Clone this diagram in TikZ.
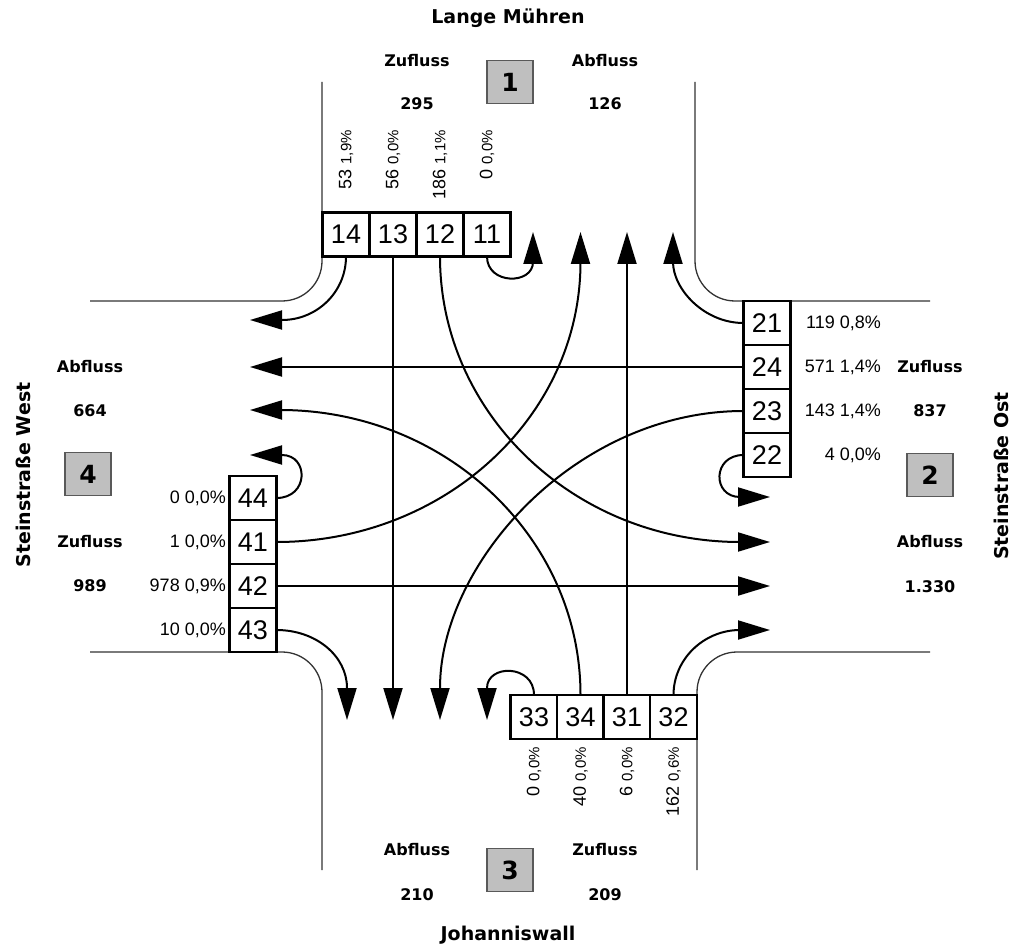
\documentclass[tikz,border=0pt]{standalone}
\usepackage{fontspec}
\setmainfont{DejaVu Sans}
\newfontfamily\numfont{Liberation Sans}
\usetikzlibrary{arrows.meta}
\begin{document}
\begin{tikzpicture}[x=1pt,y=-1pt,
  street/.style={line width=1.3pt, draw=black!80, rounded corners=40pt},
  flow/.style={line width=2pt, -{Triangle[length=32pt,width=19pt]}},
  lane/.style={draw, line width=2.4pt, fill=white, inner sep=0pt, outer sep=0pt,
    minimum width=47pt, minimum height=44pt, font=\numfont\fontsize{27}{27}\selectfont},
  armno/.style={draw=black!65, line width=1.5pt, fill=black!25, inner sep=0pt,
    minimum width=46pt, minimum height=43pt, font=\bfseries\fontsize{25}{25}\selectfont},
  head/.style={font=\bfseries\fontsize{16}{16}\selectfont, inner sep=0pt},
  roadname/.style={font=\bfseries\fontsize{19}{19}\selectfont, inner sep=0pt},
  cnt/.style={font=\numfont\fontsize{18}{18}\selectfont, inner sep=0pt},
]
\useasboundingbox[fill=white] (0,0) rectangle (1011,949);

% kerb lines of the four corners
\draw[street] (322,82) |- (90,301);
\draw[street] (695,82) |- (930,301);
\draw[street] (90,652) -| (322,870);
\draw[street] (930,652) -| (697,870);

% lane boxes, arm 1 (north)
\node[lane] (b14) at (346,234.5) {14};
\node[lane] (b13) at (393,234.5) {13};
\node[lane] (b12) at (440,234.5) {12};
\node[lane] (b11) at (487,234.5) {11};
% arm 2 (east)
\node[lane] (b21) at (767,323) {21};
\node[lane] (b24) at (767,367) {24};
\node[lane] (b23) at (767,411) {23};
\node[lane] (b22) at (767,455) {22};
% arm 3 (south)
\node[lane] (b33) at (534,717) {33};
\node[lane] (b34) at (580.5,717) {34};
\node[lane] (b31) at (627,717) {31};
\node[lane] (b32) at (673.5,717) {32};
% arm 4 (west)
\node[lane] (b44) at (253,498) {44};
\node[lane] (b41) at (253,542) {41};
\node[lane] (b42) at (253,586) {42};
\node[lane] (b43) at (253,630) {43};

% exit points of the movements
\coordinate (t11) at (533,232);
\coordinate (t41) at (580.5,232);
\coordinate (t31) at (627,232);
\coordinate (t21) at (673,232);
\coordinate (l14) at (250,320);
\coordinate (l24) at (250,367);
\coordinate (l34) at (250,410);
\coordinate (l44) at (250,455);
\coordinate (d43) at (347,720);
\coordinate (d13) at (393,720);
\coordinate (d23) at (440,720);
\coordinate (d33) at (487,720);
\coordinate (r22) at (770,497);
\coordinate (r12) at (770,542);
\coordinate (r42) at (770,586);
\coordinate (r32) at (770,630);

% movements
\draw[flow] (b14.south) .. controls (346,292) and (317,320) .. (282,320) -- (l14);
\draw[flow] (b13.south) -- (d13);
\draw[flow] (b12.south) .. controls (440,414) and (575,542) .. (740,542) -- (r12);
\draw[flow] (b11.south) .. controls (487,285) and (533,285) .. (533,262) -- (t11);

\draw[flow] (b21.west) .. controls (704,323) and (673,289) .. (673,262) -- (t21);
\draw[flow] (b24.west) -- (l24);
\draw[flow] (b23.west) .. controls (576,411) and (440,563) .. (440,688) -- (d23);
\draw[flow] (b22.west) .. controls (712,455) and (712,497) .. (740,497) -- (r22);

\draw[flow] (b33.north) .. controls (534,664) and (487,664) .. (487,688) -- (d33);
\draw[flow] (b34.north) .. controls (580.5,538) and (446,410) .. (280,410) -- (l34);
\draw[flow] (b31.north) -- (t31);
\draw[flow] (b32.north) .. controls (673.5,659) and (704,630) .. (740,630) -- (r32);

\draw[flow] (b44.east) .. controls (309,498) and (309,455) .. (282,455) -- (l44);
\draw[flow] (b41.east) .. controls (444,542) and (580.5,417) .. (580.5,262) -- (t41);
\draw[flow] (b42.east) -- (r42);
\draw[flow] (b43.east) .. controls (316,630) and (347,656) .. (347,688) -- (d43);

% arm numbers
\node[armno] (a1) at (510,82) {1};
\node[armno] (a2) at (930,475) {2};
\node[armno] (a3) at (510,870) {3};
\node[armno] (a4) at (88,474) {4};

% street names
\node[roadname] (n1) at (508,18) {Lange Mühren};
\node[roadname] (n3) at (508,935) {Johanniswall};
\node[roadname, rotate=90] (n4) at (23,475) {Steinstraße West};
\node[roadname, rotate=90] (n2) at (1001,476) {Steinstraße Ost};

% inflow / outflow totals
\node[head] (z1) at (417,61) {Zufluss};
\node[head] (z1v) at (417,104) {295};
\node[head] (o1) at (605,61) {Abfluss};
\node[head] (o1v) at (605,104) {126};

\node[head] (z2) at (930,367) {Zufluss};
\node[head] (z2v) at (930,411) {837};
\node[head] (o2) at (930,542) {Abfluss};
\node[head] (o2v) at (930,587) {1.330};

\node[head] (o3) at (417,850) {Abfluss};
\node[head] (o3v) at (417,895) {210};
\node[head] (z3) at (605,850) {Zufluss};
\node[head] (z3v) at (605,895) {209};

\node[head] (o4) at (90,367) {Abfluss};
\node[head] (o4v) at (90,411) {664};
\node[head] (z4) at (90,542) {Zufluss};
\node[head] (z4v) at (90,586) {989};

% lane volumes and heavy-vehicle shares
\newcommand{\pct}[1]{{\fontsize{15}{15}\selectfont #1}}
\node[cnt, rotate=90, anchor=east] (c14) at (346,130) {53 \pct{1,9\%}};
\node[cnt, rotate=90, anchor=east] (c13) at (393,130) {56 \pct{0,0\%}};
\node[cnt, rotate=90, anchor=east] (c12) at (440,130) {186 \pct{1,1\%}};
\node[cnt, rotate=90, anchor=east] (c11) at (487,130) {0 \pct{0,0\%}};

\node[cnt, anchor=east] (c21) at (881,323) {119 0,8\%};
\node[cnt, anchor=east] (c24) at (881,367) {571 1,4\%};
\node[cnt, anchor=east] (c23) at (881,411) {143 1,4\%};
\node[cnt, anchor=east] (c22) at (881,455) {4 0,0\%};

\node[cnt, rotate=90, anchor=east] (c33) at (534,747) {0 \pct{0,0\%}};
\node[cnt, rotate=90, anchor=east] (c34) at (580.5,747) {40 \pct{0,0\%}};
\node[cnt, rotate=90, anchor=east] (c31) at (627,747) {6 \pct{0,0\%}};
\node[cnt, rotate=90, anchor=east] (c32) at (673.5,747) {162 \pct{0,6\%}};

\node[cnt, anchor=east] (c44) at (226,498) {0 0,0\%};
\node[cnt, anchor=east] (c41) at (226,542) {1 0,0\%};
\node[cnt, anchor=east] (c42) at (226,586) {978 0,9\%};
\node[cnt, anchor=east] (c43) at (226,630) {10 0,0\%};
\end{tikzpicture}
\end{document}
